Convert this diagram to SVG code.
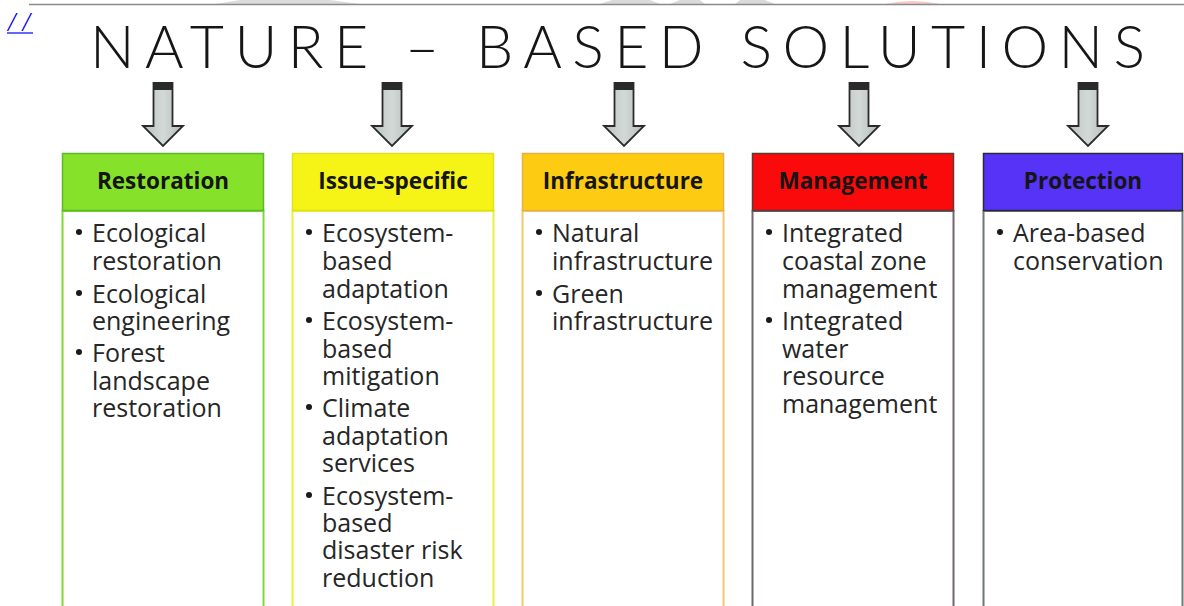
<svg xmlns="http://www.w3.org/2000/svg" width="1184" height="606" viewBox="0 0 1184 606">
<defs>
<style>
.title{font-family:Lato,"Open Sans","Liberation Sans",sans-serif;font-weight:300;font-size:59px;fill:#161616}
.hdr{font-family:"Open Sans","Liberation Sans",sans-serif;font-weight:700;font-size:22.5px;fill:#151515;text-anchor:middle}
.body{font-family:"Open Sans","Liberation Sans",sans-serif;font-size:25px;fill:#262626}
.link{font-family:"Liberation Serif",serif;font-style:italic;font-size:27px;fill:#0000ee}
.arrow{fill:url(#ag);stroke:#2a2a2a;stroke-width:1.8;stroke-linejoin:miter}
.cap{fill:#2a2a2a}
.bul{fill:#1a1a1a}
</style>
<linearGradient id="ag" x1="0" y1="0" x2="1" y2="0">
<stop offset="0" stop-color="#b9c2be"/>
<stop offset="0.5" stop-color="#d3d9d6"/>
<stop offset="1" stop-color="#b3bcb8"/>
</linearGradient>
<g id="arr">
<path class="arrow" d="M-9.5,0 H9.5 V43 H20 L0,63 L-20,43 H-9.5 Z"/>
<rect class="cap" x="-9.5" y="0" width="19" height="7"/>
</g>
</defs>
<rect width="1184" height="606" fill="#ffffff"/>
<g id="watermark" opacity="0.55">
<path d="M215,4 L240,0 H330 L360,4 Z" fill="#bdbdbd"/>
<path d="M600,4 L612,0 H650 L660,4 Z" fill="#bdbdbd"/>
<path d="M670,4 L680,0 H700 L705,4 Z" fill="#bdbdbd"/>
<path d="M735,4 L740,0 H765 L775,4 Z" fill="#bdbdbd"/>
<path d="M885,4 Q912,-2 940,4 Z" fill="#f4a0a0"/>
</g>
<line x1="29" y1="4.5" x2="1184" y2="4.5" stroke="#8a8a8a" stroke-width="1.5"/>
<g id="link">
<text class="link" x="8" y="31" textLength="22" lengthAdjust="spacing">//</text>
<line x1="7" y1="33" x2="33" y2="33" stroke="#0000ee" stroke-width="1.2"/>
</g>
<g id="title">
<text class="title" x="90" y="68" textLength="1055" lengthAdjust="spacing">NATURE – BASED SOLUTIONS</text>
</g>
<g id="connectors">
<use href="#arr" x="163" y="83"/>
<use href="#arr" x="392" y="83"/>
<use href="#arr" x="624" y="83"/>
<use href="#arr" x="859" y="83"/>
<use href="#arr" x="1088" y="83"/>
</g>
<g id="restoration">
<rect x="62.5" y="211" width="201" height="400" fill="#fff" stroke="#7fd83a" stroke-width="2"/>
<rect x="62.5" y="153.5" width="201" height="57" fill="#86e12a" stroke="#5cb82a" stroke-width="1.5"/>
<text class="hdr" x="163" y="189">Restoration</text>
<circle class="bul" cx="79" cy="232" r="3"/>
<circle class="bul" cx="79" cy="293" r="3"/>
<circle class="bul" cx="79" cy="352" r="3"/>
<text class="body"><tspan x="92" y="242">Ecological</tspan><tspan x="92" y="270">restoration</tspan><tspan x="92" y="303">Ecological</tspan><tspan x="92" y="330">engineering</tspan><tspan x="92" y="362">Forest</tspan><tspan x="92" y="390">landscape</tspan><tspan x="92" y="417">restoration</tspan></text>
</g>
<g id="issue-specific">
<rect x="292.5" y="211" width="201" height="400" fill="#fff" stroke="#e6f23a" stroke-width="2"/>
<rect x="292.5" y="153.5" width="201" height="57" fill="#f6f416" stroke="#e0e020" stroke-width="1.5"/>
<text class="hdr" x="393" y="189">Issue-specific</text>
<circle class="bul" cx="309" cy="232" r="3"/>
<circle class="bul" cx="309" cy="320" r="3"/>
<circle class="bul" cx="309" cy="407" r="3"/>
<circle class="bul" cx="309" cy="495" r="3"/>
<text class="body"><tspan x="322" y="242">Ecosystem-</tspan><tspan x="322" y="270">based</tspan><tspan x="322" y="298">adaptation</tspan><tspan x="322" y="330">Ecosystem-</tspan><tspan x="322" y="358">based</tspan><tspan x="322" y="385">mitigation</tspan><tspan x="322" y="417">Climate</tspan><tspan x="322" y="445">adaptation</tspan><tspan x="322" y="472">services</tspan><tspan x="322" y="505">Ecosystem-</tspan><tspan x="322" y="532">based</tspan><tspan x="322" y="559">disaster risk</tspan><tspan x="322" y="587">reduction</tspan></text>
</g>
<g id="infrastructure">
<rect x="522.5" y="211" width="201" height="400" fill="#fff" stroke="#f0c870" stroke-width="2"/>
<rect x="522.5" y="153.5" width="201" height="57" fill="#fccb12" stroke="#e8b040" stroke-width="1.5"/>
<text class="hdr" x="623" y="189">Infrastructure</text>
<circle class="bul" cx="539" cy="232" r="3"/>
<circle class="bul" cx="539" cy="293" r="3"/>
<text class="body"><tspan x="552" y="242">Natural</tspan><tspan x="552" y="270">infrastructure</tspan><tspan x="552" y="303">Green</tspan><tspan x="552" y="330">infrastructure</tspan></text>
</g>
<g id="management">
<rect x="752.5" y="211" width="201" height="400" fill="#fff" stroke="#706670" stroke-width="2"/>
<rect x="752.5" y="153.5" width="201" height="57" fill="#fa0a0a" stroke="#5a3a3a" stroke-width="1.5"/>
<text class="hdr" x="853" y="189">Management</text>
<circle class="bul" cx="769" cy="232" r="3"/>
<circle class="bul" cx="769" cy="320" r="3"/>
<text class="body"><tspan x="782" y="242">Integrated</tspan><tspan x="782" y="270">coastal zone</tspan><tspan x="782" y="298">management</tspan><tspan x="782" y="330">Integrated</tspan><tspan x="782" y="358">water</tspan><tspan x="782" y="385">resource</tspan><tspan x="782" y="413">management</tspan></text>
</g>
<g id="protection">
<rect x="983.5" y="211" width="199" height="400" fill="#fff" stroke="#6e7a7a" stroke-width="2"/>
<rect x="983.5" y="153.5" width="199" height="57" fill="#5633f6" stroke="#2a2a3a" stroke-width="1.5"/>
<text class="hdr" x="1083" y="189">Protection</text>
<circle class="bul" cx="1000" cy="232" r="3"/>
<text class="body"><tspan x="1013" y="242">Area-based</tspan><tspan x="1013" y="270">conservation</tspan></text>
</g>
</svg>
